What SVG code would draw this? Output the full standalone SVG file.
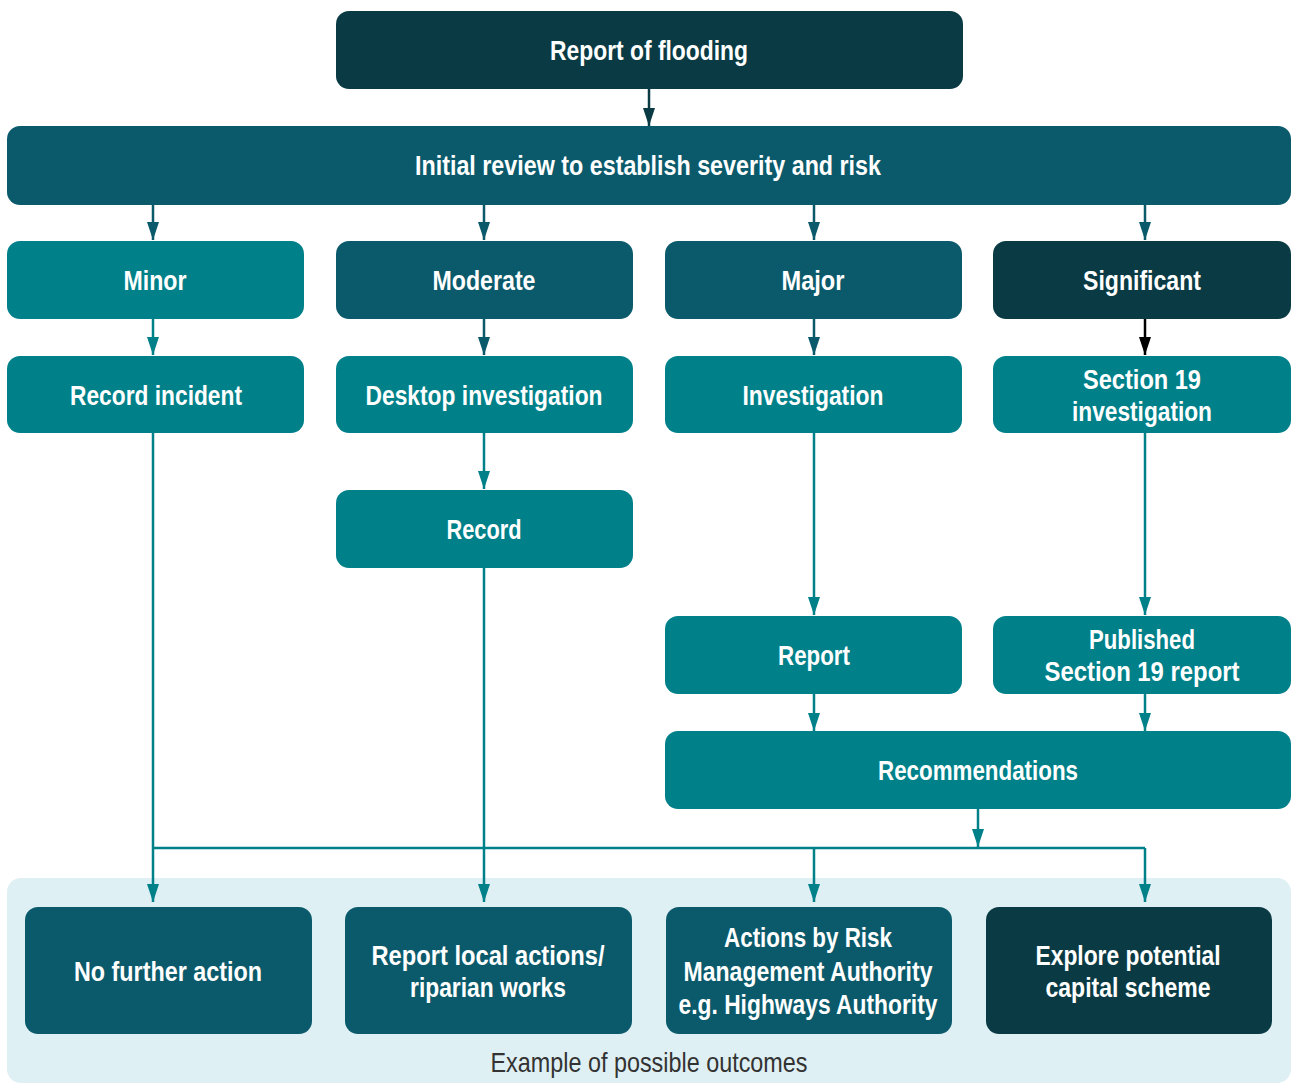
<svg xmlns="http://www.w3.org/2000/svg" width="1292" height="1083" viewBox="0 0 1292 1083">
<style>
.dark{fill:#0a3b44}
.mid{fill:#0b5a6b}
.teal{fill:#00818a}
.t{font-family:"Liberation Sans",Arial,sans-serif;font-weight:bold;font-size:28px;fill:#ffffff;text-anchor:middle}
.cap{font-family:"Liberation Sans",Arial,sans-serif;font-size:28px;fill:#333333;text-anchor:middle}
.c{fill:none;stroke-width:2.5}
.ct{stroke:#00818a}
.cm{stroke:#0b5a6b}
.cd{stroke:#0a3b44}
.ck{stroke:#000000}
</style>
<defs>
<marker id="aT" viewBox="0 0 18 12" refX="18" refY="6" markerUnits="userSpaceOnUse" markerWidth="18" markerHeight="12" orient="auto"><path d="M0,0 L18,6 L0,12 z" fill="#00818a"/></marker>
<marker id="aM" viewBox="0 0 18 12" refX="18" refY="6" markerUnits="userSpaceOnUse" markerWidth="18" markerHeight="12" orient="auto"><path d="M0,0 L18,6 L0,12 z" fill="#0b5a6b"/></marker>
<marker id="aD" viewBox="0 0 18 12" refX="18" refY="6" markerUnits="userSpaceOnUse" markerWidth="18" markerHeight="12" orient="auto"><path d="M0,0 L18,6 L0,12 z" fill="#0a3b44"/></marker>
<marker id="aK" viewBox="0 0 18 12" refX="18" refY="6" markerUnits="userSpaceOnUse" markerWidth="18" markerHeight="12" orient="auto"><path d="M0,0 L18,6 L0,12 z" fill="#000000"/></marker>
</defs>
<rect x="7" y="878" width="1284" height="205" rx="14" fill="#dff0f4"/>
<text class="cap" x="649" y="1072" textLength="317" lengthAdjust="spacingAndGlyphs">Example of possible outcomes</text>
<g id="connectors">
<path class="c cd" d="M649,89 V126" marker-end="url(#aD)"/>
<path class="c cm" d="M153,205 V240" marker-end="url(#aM)"/>
<path class="c cm" d="M484,205 V240" marker-end="url(#aM)"/>
<path class="c cm" d="M814,205 V240" marker-end="url(#aM)"/>
<path class="c cm" d="M1145,205 V240" marker-end="url(#aM)"/>
<path class="c ct" d="M153,319 V355" marker-end="url(#aT)"/>
<path class="c cm" d="M484,319 V355" marker-end="url(#aM)"/>
<path class="c cm" d="M814,319 V355" marker-end="url(#aM)"/>
<path class="c ck" d="M1145,319 V355" marker-end="url(#aK)"/>
<path class="c ct" d="M484,433 V489" marker-end="url(#aT)"/>
<path class="c ct" d="M814,433 V615" marker-end="url(#aT)"/>
<path class="c ct" d="M1145,433 V615" marker-end="url(#aT)"/>
<path class="c ct" d="M814,694 V731" marker-end="url(#aT)"/>
<path class="c ct" d="M1145,694 V731" marker-end="url(#aT)"/>
<path class="c ct" d="M978,809 V847" marker-end="url(#aT)"/>
<path class="c ct" d="M153,848 H1145"/>
<path class="c ct" d="M153,433 V902" marker-end="url(#aT)"/>
<path class="c ct" d="M484,568 V902" marker-end="url(#aT)"/>
<path class="c ct" d="M814,848 V902" marker-end="url(#aT)"/>
<path class="c ct" d="M1145,848 V902" marker-end="url(#aT)"/>
</g>
<g id="report-flooding"><rect class="dark" x="336" y="11" width="627" height="78" rx="13"/><text class="t" x="649" y="60" textLength="198" lengthAdjust="spacingAndGlyphs">Report of flooding</text></g>
<g id="initial-review"><rect class="mid" x="7" y="126" width="1284" height="79" rx="13"/><text class="t" x="648" y="175" textLength="466" lengthAdjust="spacingAndGlyphs">Initial review to establish severity and risk</text></g>
<g id="minor"><rect class="teal" x="7" y="241" width="297" height="78" rx="13"/><text class="t" x="155" y="290" textLength="63" lengthAdjust="spacingAndGlyphs">Minor</text></g>
<g id="moderate"><rect class="mid" x="336" y="241" width="297" height="78" rx="13"/><text class="t" x="484" y="290" textLength="103" lengthAdjust="spacingAndGlyphs">Moderate</text></g>
<g id="major"><rect class="mid" x="665" y="241" width="297" height="78" rx="13"/><text class="t" x="813" y="290" textLength="63" lengthAdjust="spacingAndGlyphs">Major</text></g>
<g id="significant"><rect class="dark" x="993" y="241" width="298" height="78" rx="13"/><text class="t" x="1142" y="290" textLength="118" lengthAdjust="spacingAndGlyphs">Significant</text></g>
<g id="record-incident"><rect class="teal" x="7" y="356" width="297" height="77" rx="13"/><text class="t" x="156" y="405" textLength="172" lengthAdjust="spacingAndGlyphs">Record incident</text></g>
<g id="desktop-investigation"><rect class="teal" x="336" y="356" width="297" height="77" rx="13"/><text class="t" x="484" y="405" textLength="237" lengthAdjust="spacingAndGlyphs">Desktop investigation</text></g>
<g id="investigation"><rect class="teal" x="665" y="356" width="297" height="77" rx="13"/><text class="t" x="813" y="405" textLength="141" lengthAdjust="spacingAndGlyphs">Investigation</text></g>
<g id="section19-investigation"><rect class="teal" x="993" y="356" width="298" height="77" rx="13"/><text class="t" x="1142" y="389" textLength="118" lengthAdjust="spacingAndGlyphs">Section 19</text><text class="t" x="1142" y="421" textLength="140" lengthAdjust="spacingAndGlyphs">investigation</text></g>
<g id="record"><rect class="teal" x="336" y="490" width="297" height="78" rx="13"/><text class="t" x="484" y="539" textLength="75" lengthAdjust="spacingAndGlyphs">Record</text></g>
<g id="report"><rect class="teal" x="665" y="616" width="297" height="78" rx="13"/><text class="t" x="814" y="665" textLength="72" lengthAdjust="spacingAndGlyphs">Report</text></g>
<g id="published-report"><rect class="teal" x="993" y="616" width="298" height="78" rx="13"/><text class="t" x="1142" y="649" textLength="106" lengthAdjust="spacingAndGlyphs">Published</text><text class="t" x="1142" y="681" textLength="195" lengthAdjust="spacingAndGlyphs">Section 19 report</text></g>
<g id="recommendations"><rect class="teal" x="665" y="731" width="626" height="78" rx="13"/><text class="t" x="978" y="780" textLength="200" lengthAdjust="spacingAndGlyphs">Recommendations</text></g>
<g id="no-further-action"><rect class="mid" x="25" y="907" width="287" height="127" rx="13"/><text class="t" x="168" y="981" textLength="188" lengthAdjust="spacingAndGlyphs">No further action</text></g>
<g id="report-local-actions"><rect class="mid" x="345" y="907" width="287" height="127" rx="13"/><text class="t" x="488" y="965" textLength="233" lengthAdjust="spacingAndGlyphs">Report local actions/</text><text class="t" x="488" y="997" textLength="156" lengthAdjust="spacingAndGlyphs">riparian works</text></g>
<g id="actions-rma"><rect class="mid" x="666" y="907" width="286" height="127" rx="13"/><text class="t" x="808" y="947" textLength="168" lengthAdjust="spacingAndGlyphs">Actions by Risk</text><text class="t" x="808" y="981" textLength="249" lengthAdjust="spacingAndGlyphs">Management Authority</text><text class="t" x="808" y="1014" textLength="259" lengthAdjust="spacingAndGlyphs">e.g. Highways Authority</text></g>
<g id="capital-scheme"><rect class="dark" x="986" y="907" width="286" height="127" rx="13"/><text class="t" x="1128" y="965" textLength="185" lengthAdjust="spacingAndGlyphs">Explore potential</text><text class="t" x="1128" y="997" textLength="165" lengthAdjust="spacingAndGlyphs">capital scheme</text></g>
</svg>
